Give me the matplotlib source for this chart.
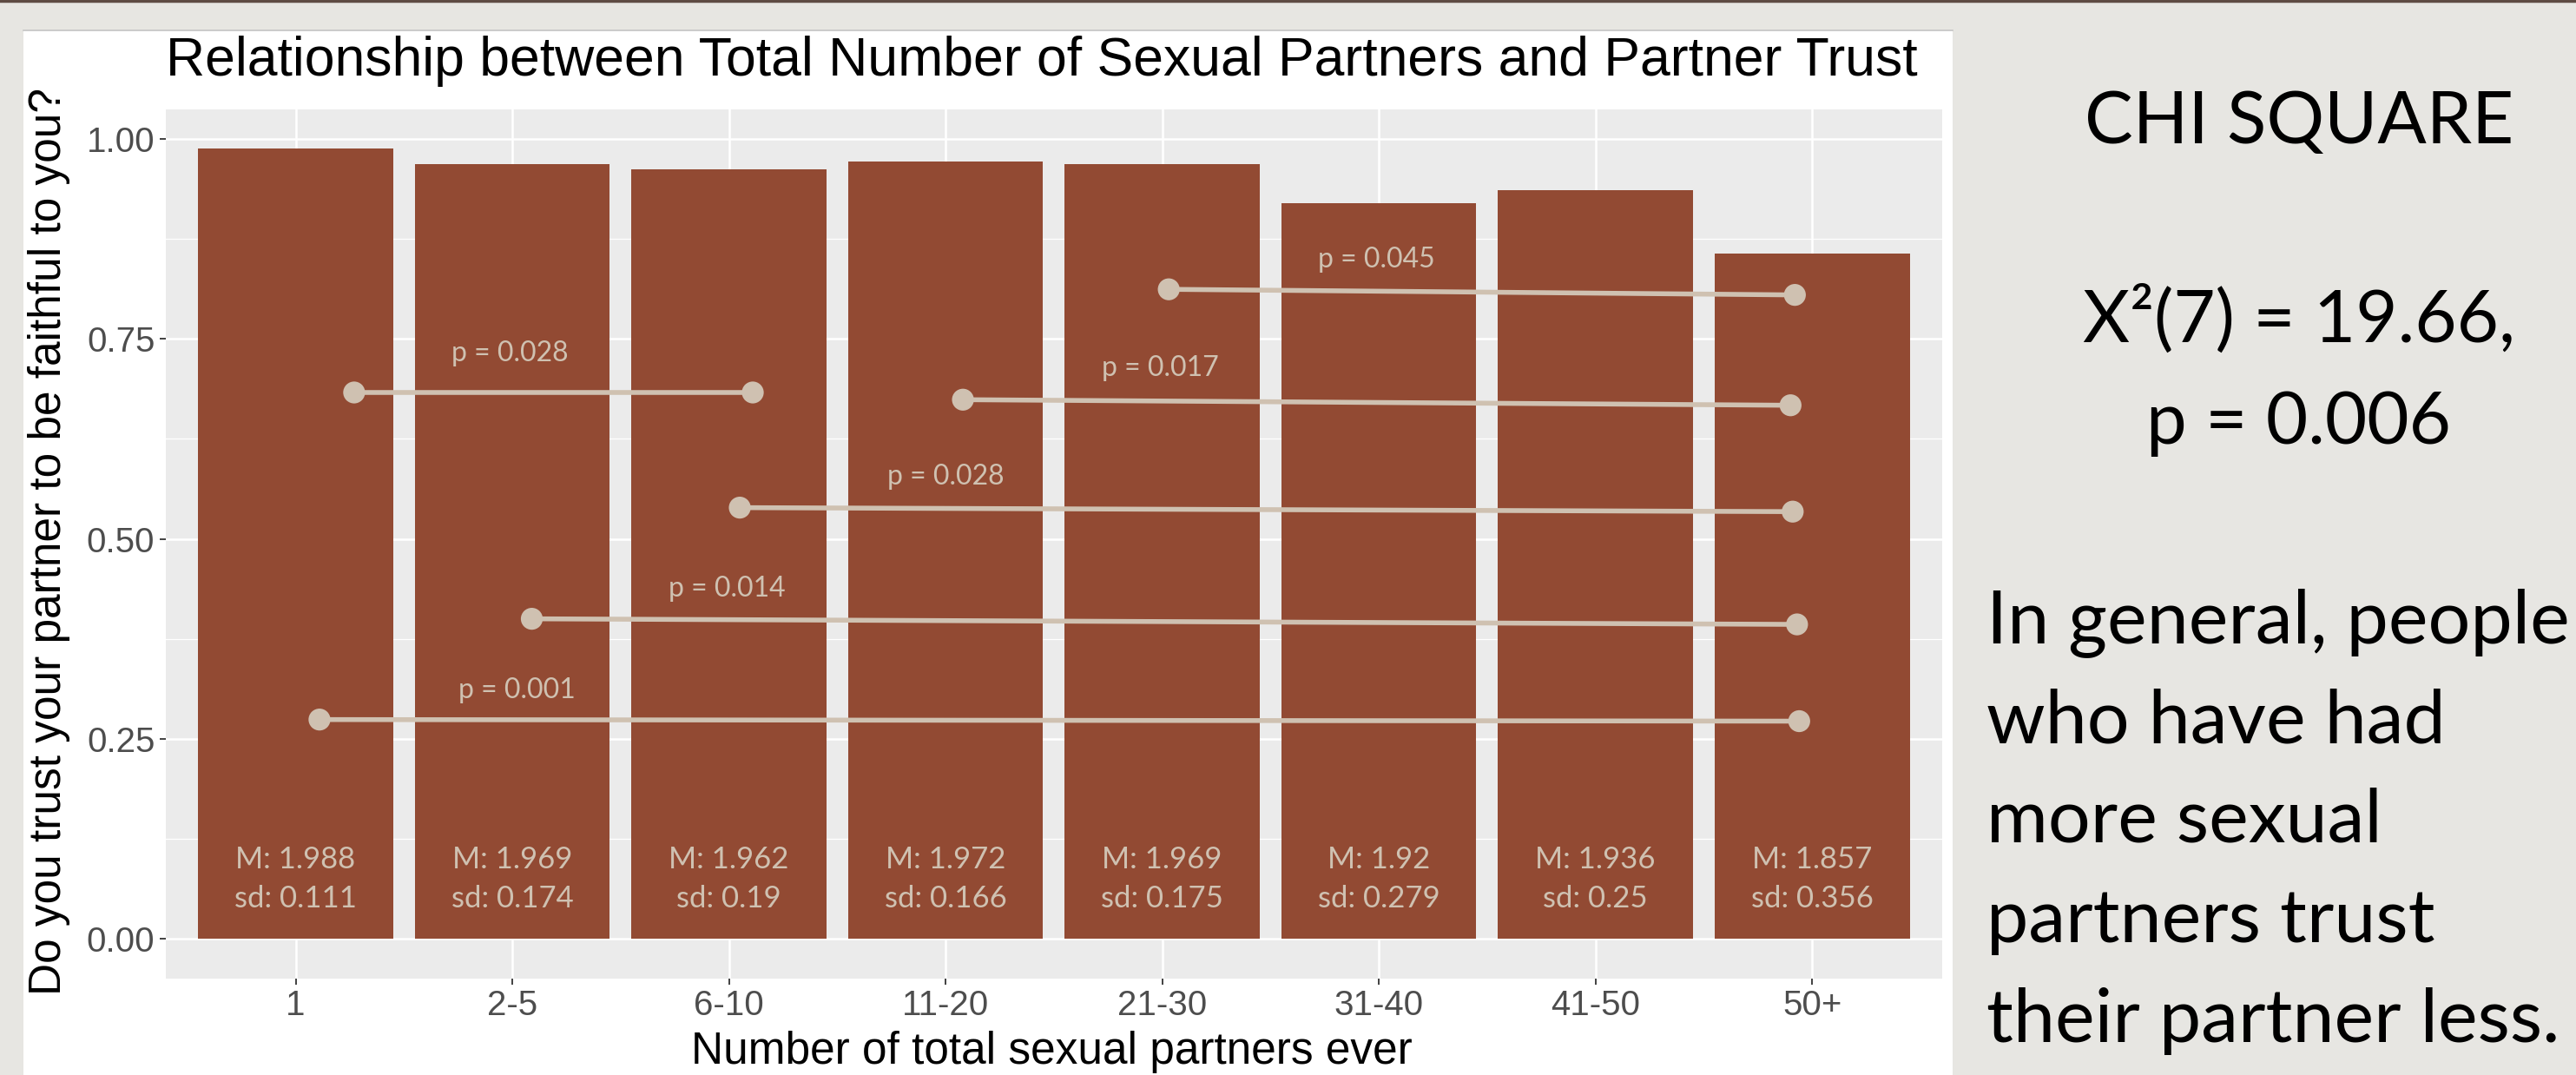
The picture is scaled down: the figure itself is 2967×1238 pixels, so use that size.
import matplotlib
matplotlib.use('Agg')
import matplotlib.pyplot as plt
from matplotlib.patches import Rectangle
from matplotlib.lines import Line2D
from matplotlib.ticker import FixedLocator


# data
groups = ['1', '2-5', '6-10', '11-20', '21-30', '31-40', '41-50', '50+']
means = [1.988, 1.969, 1.962, 1.972, 1.969, 1.92, 1.936, 1.857]
sds = [0.111, 0.174, 0.19, 0.166, 0.175, 0.279, 0.25, 0.356]
trust = [m - 1 for m in means]   # share answering "yes" (coded 1/2)

# pairwise comparisons drawn as segments (x in category index units)
p_labels = ['p = 0.028', 'p = 0.045', 'p = 0.017', 'p = 0.028', 'p = 0.014', 'p = 0.001']
seg_x0 = [0.27, 4.03, 3.08, 2.05, 1.09, 0.11]
seg_x1 = [2.11, 6.92, 6.90, 6.91, 6.93, 6.94]
seg_y0 = [0.683, 0.812, 0.674, 0.539, 0.400, 0.274]
seg_y1 = [0.683, 0.805, 0.667, 0.534, 0.393, 0.272]
lab_x = [0.99, 4.99, 3.99, 3.0, 1.99, 1.02]
lab_y = [0.732, 0.849, 0.713, 0.578, 0.438, 0.311]

chi_lines = ['CHI SQUARE', 'X\u00b2(7) = 19.66,', 'p = 0.006']
summary = ['In general, people', 'who have had', 'more sexual',
           'partners trust', 'their partner less.']

bar_col = '#924A33'
note_col = '#CFC1B1'
W, H = 2967, 1238

fig = plt.figure(figsize=(W/100, H/100), dpi=100)
fig.patch.set_facecolor('#E7E6E2')

# white box the R plot was pasted in + slide top border
fig.add_artist(Rectangle((27/W, 0), (2249-27)/W, (H-35)/H, transform=fig.transFigure,
                         facecolor='white', edgecolor='none', zorder=0))
fig.add_artist(Line2D([27/W, 2249/W], [1-35/H, 1-35/H], transform=fig.transFigure,
                      color='#C4C4C4', lw=1.2))
fig.add_artist(Line2D([0, 1], [1-1/H, 1-1/H], transform=fig.transFigure,
                      color='#5E4B43', lw=2.5))

ax = fig.add_axes([190.8/W, 1-1126.5/H, (2237-190.8)/W, (1126.5-125.6)/H])
ax.set_facecolor('#EBEBEB')
ax.set_axisbelow(True)
for s in ax.spines.values():
    s.set_visible(False)

x = list(range(len(groups)))
ax.bar(x, trust, width=0.9, color=bar_col, zorder=2)

for i in x:
    ax.text(i, 0.099, 'M: ' + str(means[i]), ha='center', va='center',
            color=note_col, fontsize=25, family='Lato', zorder=4)
    ax.text(i, 0.050, 'sd: ' + str(sds[i]), ha='center', va='center',
            color=note_col, fontsize=25, family='Lato', zorder=4)

for k in range(len(p_labels)):
    ax.plot([seg_x0[k], seg_x1[k]], [seg_y0[k], seg_y1[k]], color=note_col, lw=4,
            solid_capstyle='butt', zorder=3)
    ax.scatter([seg_x0[k], seg_x1[k]], [seg_y0[k], seg_y1[k]], s=330, color=note_col,
               edgecolors='none', zorder=3)
    ax.text(lab_x[k], lab_y[k], p_labels[k], ha='center', va='center',
            color=note_col, fontsize=23, family='Lato', zorder=4)

ax.set_xlim(-0.6, 7.6)
ax.set_ylim(-0.0494, 1.0374)
ax.set_xticks(x)
ax.set_xticklabels(groups)
ax.set_yticks([0, 0.25, 0.5, 0.75, 1.0])
ax.set_yticklabels(['0.00', '0.25', '0.50', '0.75', '1.00'])
ax.yaxis.set_minor_locator(FixedLocator([0.125, 0.375, 0.625, 0.875]))
ax.grid(which='major', color='white', lw=1.8)
ax.grid(which='minor', axis='y', color='white', lw=0.9)
ax.tick_params(which='major', length=5, width=1.3, color='#333333',
               labelcolor='#4D4D4D', labelsize=29, pad=4)
ax.tick_params(which='minor', length=0)
for t in ax.get_xticklabels() + ax.get_yticklabels():
    t.set_family('Liberation Sans')

fig.text(191/W, 1-87/H, 'Relationship between Total Number of Sexual Partners and Partner Trust',
         ha='left', va='baseline', fontsize=45, family='Liberation Sans')
fig.text(1211/W, 1-1225/H, 'Number of total sexual partners ever', ha='center',
         va='baseline', fontsize=37, family='Liberation Sans')
fig.text(57/W, 1-624/H, 'Do you trust your partner to be faithful to you?', ha='center',
         va='center', rotation=90, fontsize=37, family='Liberation Sans')

# right hand side of the slide
chi_y = [165, 394, 511]
for t, yb in zip(chi_lines, chi_y):
    fig.text(2648/W, 1-yb/H, t, ha='center', va='baseline', fontsize=60, family='Lato')
for j, t in enumerate(summary):
    fig.text(2288/W, 1-(740+115*j)/H, t, ha='left', va='baseline', fontsize=62,
             family='Lato')

fig.savefig('out.png', dpi=100, facecolor=fig.get_facecolor())
